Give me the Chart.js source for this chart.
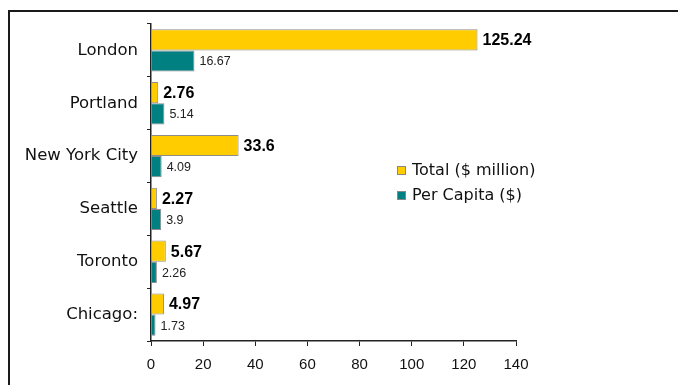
<!DOCTYPE html>
<html>
<head>
<meta charset="utf-8">
<script src="https://cdn.jsdelivr.net/npm/chart.js@4/dist/chart.umd.min.js"></script>
<style>
  html, body { margin: 0; padding: 0; background: #fff; }
  .wrap { position: relative; width: 678px; height: 385px; overflow: hidden; }
  .frame {
    position: absolute; left: 8px; top: 10px; width: 700px; height: 400px;
    border-left: 2px solid #1a1a1a; border-top: 2px solid #1a1a1a;
  }
  canvas { position: absolute; left: 0; top: 0; }
</style>
</head>
<body>
<div class="wrap">
  <div class="frame"></div>
  <canvas id="chart" width="678" height="385"></canvas>
</div>
<script>
const cities = ["London", "Portland", "New York City", "Seattle", "Toronto", "Chicago:"];
const totalMillions = [125.24, 2.76, 33.6, 2.27, 5.67, 4.97];
const perCapita = [16.67, 5.14, 4.09, 3.9, 2.26, 1.73];
const xTicks = [0, 20, 40, 60, 80, 100, 120, 140];

// value labels to the right of each bar
const barLabels = {
  id: "barLabels",
  afterDatasetsDraw(chart) {
    const ctx = chart.ctx;
    ctx.save();
    ctx.textBaseline = "middle";
    ctx.textAlign = "left";
    chart.data.datasets.forEach((ds, i) => {
      const meta = chart.getDatasetMeta(i);
      ctx.font = i === 0 ? "bold 16px 'Liberation Sans', Arial" : "12.5px 'Liberation Sans', Arial";
      ctx.fillStyle = i === 0 ? "#000" : "#222";
      meta.data.forEach((bar, j) => {
        ctx.fillText(String(ds.data[j]), bar.x + 5, bar.y + 1);
      });
    });
    ctx.restore();
  }
};

// small legend in the middle of the plot
const boxLegend = {
  id: "boxLegend",
  afterDraw(chart) {
    const ctx = chart.ctx;
    ctx.save();
    ctx.font = "16px 'DejaVu Sans'";
    ctx.textBaseline = "middle";
    chart.data.datasets.forEach((ds, i) => {
      const y = 171 + i * 25;
      ctx.fillStyle = ds.backgroundColor;
      ctx.fillRect(397.5, y - 4.5, 8, 8);
      ctx.strokeStyle = "#888";
      ctx.lineWidth = 1;
      ctx.strokeRect(397.5, y - 4.5, 8, 8);
      ctx.fillStyle = "#111";
      ctx.fillText(ds.label, 412, y);
    });
    ctx.restore();
  }
};

new Chart(document.getElementById("chart"), {
  type: "bar",
  data: {
    labels: cities,
    datasets: [
      {
        label: "Total ($ million)",
        data: totalMillions,
        backgroundColor: "#FFCC00",
        borderColor: "#8c8c8c",
        borderWidth: 1,
        categoryPercentage: 0.8,
        barPercentage: 1
      },
      {
        label: "Per Capita ($)",
        data: perCapita,
        backgroundColor: "#008080",
        borderColor: "#8c8c8c",
        borderWidth: 1,
        categoryPercentage: 0.8,
        barPercentage: 1
      }
    ]
  },
  options: {
    indexAxis: "y",
    responsive: false,
    animation: false,
    layout: { padding: { left: 0, top: 24, right: 162, bottom: 0 } },
    scales: {
      x: {
        min: 0,
        max: 140,
        afterBuildTicks(scale) {
          scale.ticks = xTicks.map(v => ({ value: v }));
        },
        afterFit(scale) { scale.height = 44; },
        grid: { drawOnChartArea: false, drawTicks: true, tickLength: 5, color: "#222" },
        border: { color: "#222", width: 1.5 },
        ticks: {
          color: "#111",
          padding: 10,
          font: { family: "'Liberation Sans', Arial", size: 15 }
        }
      },
      y: {
        afterFit(scale) { scale.width = 151; },
        grid: { drawOnChartArea: false, drawTicks: true, tickLength: 4, color: "#222", offset: true },
        border: { color: "#222", width: 1.5 },
        ticks: {
          color: "#111",
          padding: 9,
          font: { family: "'DejaVu Sans'", size: 16.5 }
        }
      }
    },
    plugins: {
      legend: { display: false },
      tooltip: { enabled: false }
    }
  },
  plugins: [barLabels, boxLegend]
});
</script>
</body>
</html>
